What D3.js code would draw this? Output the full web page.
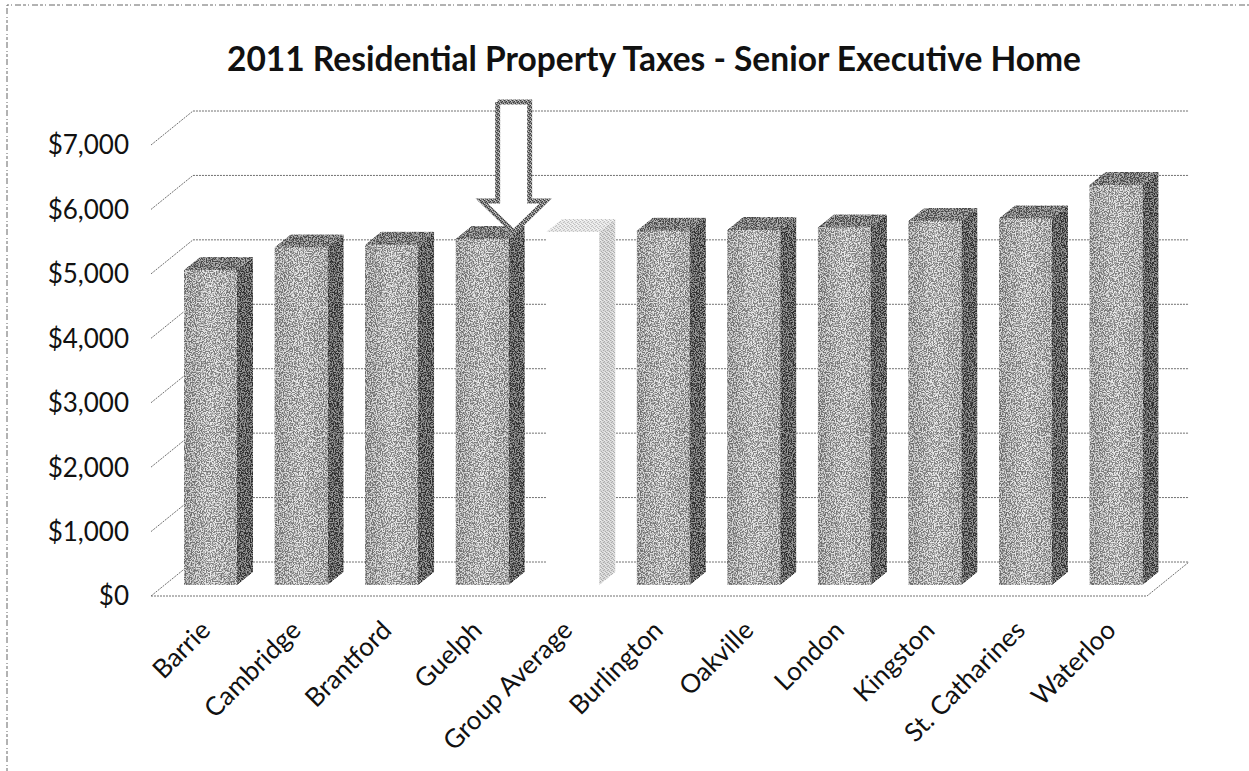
<!DOCTYPE html>
<html>
<head>
<meta charset="utf-8">
<script src="https://cdn.jsdelivr.net/npm/d3@7"></script>
<style>
  html, body { margin: 0; padding: 0; background: #fff; }
  svg { display: block; }
  text { font-family: Lato, "Noto Sans", sans-serif; fill: #111; }
</style>
</head>
<body>
<svg id="chart" width="1249" height="771"></svg>
<script>
// Municipal tax figures for a senior executive home, lowest to highest.
const municipalities = ["Barrie", "Cambridge", "Brantford", "Guelph", "Group Average", "Burlington", "Oakville", "London", "Kingston", "St. Catharines", "Waterloo"];
const taxes = [4890, 5240, 5280, 5370, 5480, 5500, 5510, 5550, 5650, 5690, 6210];
const tickValues = [0, 1000, 2000, 3000, 4000, 5000, 6000, 7000];
const chartTitle = "2011 Residential Property Taxes - Senior Executive Home";
const highlighted = "Group Average";
const pointedAt = "Guelph";

const svg = d3.select("#chart");
const defs = svg.append("defs");

// The depth of the 3D box, and where the bars sit inside it.
const depth = { dx: 42, dy: -34 };
const barDepth = { dx: 16, dy: -13 };
const barInset = { dy: -11 };

const y = d3.scaleLinear().domain([0, 7000]).range([596, 145]);
const x = d3.scaleBand().domain(municipalities).range([151, 1147]);
const barWidth = x.bandwidth() * 0.585;
const barOffset = x.bandwidth() * 0.365;

// Photocopy speckle: thresholded noise pushed into each bar face.
const speckle = defs.append("filter").attr("id", "speckle")
  .attr("x", 0).attr("y", 0).attr("width", 1).attr("height", 1)
  .attr("color-interpolation-filters", "sRGB");
speckle.append("feTurbulence").attr("type", "fractalNoise")
  .attr("baseFrequency", 0.8).attr("numOctaves", 2).attr("seed", 4).attr("result", "noise");
speckle.append("feColorMatrix").attr("in", "noise").attr("type", "matrix")
  .attr("values", "5 0 0 0 -2  5 0 0 0 -2  5 0 0 0 -2  0 0 0 0 1").attr("result", "grain");
speckle.append("feComposite").attr("in", "SourceGraphic").attr("in2", "grain")
  .attr("operator", "arithmetic")
  .attr("k1", 0).attr("k2", 1).attr("k3", 0.42).attr("k4", -0.21).attr("result", "mixed");
speckle.append("feComposite").attr("in", "mixed").attr("in2", "SourceAlpha").attr("operator", "in");

// Front faces are brightest down the middle.
const frontGradient = defs.append("linearGradient").attr("id", "frontFace");
[[0, "#9e9e9e"], [0.5, "#b6b6b6"], [1, "#a6a6a6"]].forEach(s =>
  frontGradient.append("stop").attr("offset", s[0]).attr("stop-color", s[1]));

// Small repeating dither for the pale bar and the arrow outline.
function halftone(id, base, dark, light) {
  const p = defs.append("pattern").attr("id", id).attr("patternUnits", "userSpaceOnUse")
    .attr("width", 4).attr("height", 4);
  p.append("rect").attr("width", 4).attr("height", 4).attr("fill", base);
  [[0, 0], [2, 1], [1, 2], [3, 3]].forEach(c =>
    p.append("rect").attr("x", c[0]).attr("y", c[1]).attr("width", 1).attr("height", 1).attr("fill", dark));
  [[2, 0], [0, 3], [3, 1]].forEach(c =>
    p.append("rect").attr("x", c[0]).attr("y", c[1]).attr("width", 1).attr("height", 1).attr("fill", light));
}
halftone("paleTop", "#e8e8e8", "#b4b4b4", "#fff");
halftone("paleSide", "#d6d6d6", "#a0a0a0", "#f4f4f4");
halftone("arrowEdge", "#808080", "#3a3a3a", "#c8c8c8");

// Box walls: one dotted rule per tick, running along the side wall and the back wall.
const grid = svg.append("g").attr("fill", "none").attr("stroke", "#707070")
  .attr("stroke-width", 1).attr("stroke-dasharray", "2 1");
grid.selectAll("path").data(tickValues).join("path")
  .attr("d", d => d3.line()([
    [x.range()[0], y(d)],
    [x.range()[0] + depth.dx, y(d) + depth.dy],
    [x.range()[1] + depth.dx, y(d) + depth.dy]
  ]));
grid.append("path").attr("d", d3.line()([
  [x.range()[0], y(0)],
  [x.range()[1], y(0)],
  [x.range()[1] + depth.dx, y(0) + depth.dy]
]));

// Value axis labels.
const yLabels = svg.append("g").attr("font-size", 26).attr("text-anchor", "end");
yLabels.selectAll("text").data(tickValues).join("text")
  .attr("x", 129)
  .attr("y", d => y(d))
  .attr("dy", "0.36em")
  .text(d3.format("$,"));

// Bars with their front, top and side faces.
const bars = svg.append("g").selectAll("g").data(municipalities).join("g")
  .attr("transform", d => `translate(${x(d) + barOffset},0)`);
const baseY = y(0) + barInset.dy;
const barTop = i => baseY - (y(0) - y(taxes[i]));
const isPale = d => d === highlighted;

bars.append("path")
  .attr("fill", d => isPale(d) ? "url(#paleSide)" : "#626262")
  .attr("filter", d => isPale(d) ? null : "url(#speckle)")
  .attr("d", (d, i) => d3.line()([
    [barWidth, barTop(i)],
    [barWidth + barDepth.dx, barTop(i) + barDepth.dy],
    [barWidth + barDepth.dx, baseY + barDepth.dy],
    [barWidth, baseY]
  ]));
bars.append("path")
  .attr("fill", d => isPale(d) ? "url(#paleTop)" : "#7c7c7c")
  .attr("filter", d => isPale(d) ? null : "url(#speckle)")
  .attr("d", (d, i) => d3.line()([
    [0, barTop(i)],
    [barDepth.dx, barTop(i) + barDepth.dy],
    [barWidth + barDepth.dx, barTop(i) + barDepth.dy],
    [barWidth, barTop(i)]
  ]));
bars.append("rect")
  .attr("x", 0)
  .attr("width", barWidth)
  .attr("y", (d, i) => barTop(i))
  .attr("height", (d, i) => baseY - barTop(i))
  .attr("fill", d => isPale(d) ? "#fff" : "url(#frontFace)")
  .attr("filter", d => isPale(d) ? null : "url(#speckle)");

// Rotated category labels.
svg.append("g").attr("font-size", 26).attr("text-anchor", "end")
  .selectAll("text").data(municipalities).join("text")
  .attr("transform", d => `translate(${x(d) + x.bandwidth() * 0.53},619) rotate(-45)`)
  .attr("dy", "0.7em")
  .text(d => d);

// Title.
svg.append("text").attr("x", 654).attr("y", 71).attr("text-anchor", "middle")
  .attr("font-size", 33.5).attr("font-weight", 700).text(chartTitle);

// Down arrow above the group-average slot in the ranking.
const tipIndex = municipalities.indexOf(pointedAt);
const tipX = x(pointedAt) + barOffset + barWidth + 5;
const tipY = barTop(tipIndex) - 7;
svg.append("path").attr("fill", "#fff").attr("stroke", "url(#arrowEdge)")
  .attr("stroke-width", 5).attr("stroke-linejoin", "miter")
  .attr("d", d3.line()([
    [tipX - 16, tipY - 130], [tipX + 16, tipY - 130], [tipX + 16, tipY - 31],
    [tipX + 32, tipY - 31], [tipX, tipY], [tipX - 32, tipY - 31], [tipX - 16, tipY - 31],
    [tipX - 16, tipY - 130]
  ]));

// Scan-edge frame along the top and left of the sheet.
const frame = svg.append("g").attr("fill", "none").attr("stroke", "#666").attr("stroke-dasharray", "3 2 1 3 6 2");
frame.append("path").attr("d", d3.line()([[7, 771], [7, 5], [1249, 5]]));
</script>
</body>
</html>
